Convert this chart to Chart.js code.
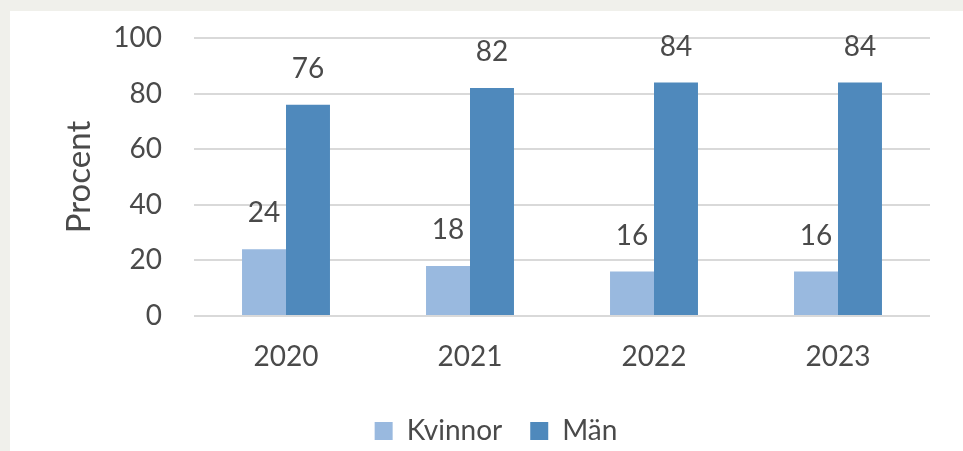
<!DOCTYPE html>
<html>
<head>
<meta charset="utf-8">
<script src="https://cdn.jsdelivr.net/npm/chart.js@4.4.1/dist/chart.umd.min.js"></script>
<style>
  html, body { margin: 0; padding: 0; background: #f0f0eb; overflow: hidden; }
  #panel { position: absolute; left: 10px; top: 11px; width: 953px; height: 450px; background: #ffffff; }
</style>
</head>
<body>
<div id="panel"><canvas id="genderChart"></canvas></div>
<script>
// Chart data
const years = ['2020', '2021', '2022', '2023'];
const kvinnor = [24, 18, 16, 16];
const man = [76, 82, 84, 84];
const yTicks = [0, 20, 40, 60, 80, 100];

const textColor = '#4a4a4a';
const fontFamily = 'Lato, "Open Sans", sans-serif';

// Value labels above each bar
const barLabels = {
    id: 'barLabels',
    afterDatasetsDraw(chart) {
        const ctx = chart.ctx;
        ctx.save();
        ctx.font = '28px ' + fontFamily;
        ctx.fillStyle = textColor;
        ctx.textAlign = 'center';
        ctx.textBaseline = 'middle';
        chart.data.datasets.forEach(function(ds, i) {
            chart.getDatasetMeta(i).data.forEach(function(bar, j) {
                ctx.fillText(String(ds.data[j]), bar.x, bar.y - 36);
            });
        });
        ctx.restore();
    }
};

// Nudge legend a bit to the right like in the original
const legendShift = {
    id: 'legendShift',
    afterLayout(chart) {
        chart.legend.left += 26;
        chart.legend.right += 26;
    }
};

const ctx = document.getElementById('genderChart').getContext('2d');
const genderChart = new Chart(ctx, {
    type: 'bar',
    data: {
        labels: years,
        datasets: [{
            label: 'Kvinnor',
            data: kvinnor,
            backgroundColor: '#99b9df'
        }, {
            label: 'Män',
            data: man,
            backgroundColor: '#4f89bc'
        }]
    },
    options: {
        responsive: true,
        maintainAspectRatio: false,
        animation: false,
        categoryPercentage: 0.478,
        barPercentage: 1,
        layout: {
            padding: { top: 27, right: 33, left: 0, bottom: 6 }
        },
        plugins: {
            legend: {
                position: 'bottom',
                labels: {
                    boxWidth: 18,
                    boxHeight: 18,
                    padding: 28,
                    color: textColor,
                    font: { family: fontFamily, size: 28 }
                }
            },
            tooltip: { enabled: false }
        },
        scales: {
            x: {
                grid: { display: false, drawTicks: false },
                border: { display: false },
                ticks: {
                    padding: 24,
                    color: textColor,
                    font: { family: fontFamily, size: 28 }
                },
                afterFit: function(scale) { scale.height = 73; }
            },
            y: {
                min: 0,
                max: 100,
                afterBuildTicks: function(scale) {
                    scale.ticks = yTicks.map(v => ({ value: v }));
                },
                grid: { color: '#d9d9d9', lineWidth: 2, drawTicks: false },
                border: { display: false },
                ticks: {
                    padding: 32,
                    color: textColor,
                    font: { family: fontFamily, size: 28 }
                },
                title: {
                    display: true,
                    text: 'Procent',
                    color: textColor,
                    padding: { top: 50, bottom: 0 },
                    font: { family: fontFamily, size: 33 }
                },
                afterFit: function(scale) {
                    scale.width = 184;
                    scale.paddingTop = 0;
                    scale.paddingBottom = 0;
                }
            }
        }
    },
    plugins: [barLabels, legendShift]
});
</script>
</body>
</html>
